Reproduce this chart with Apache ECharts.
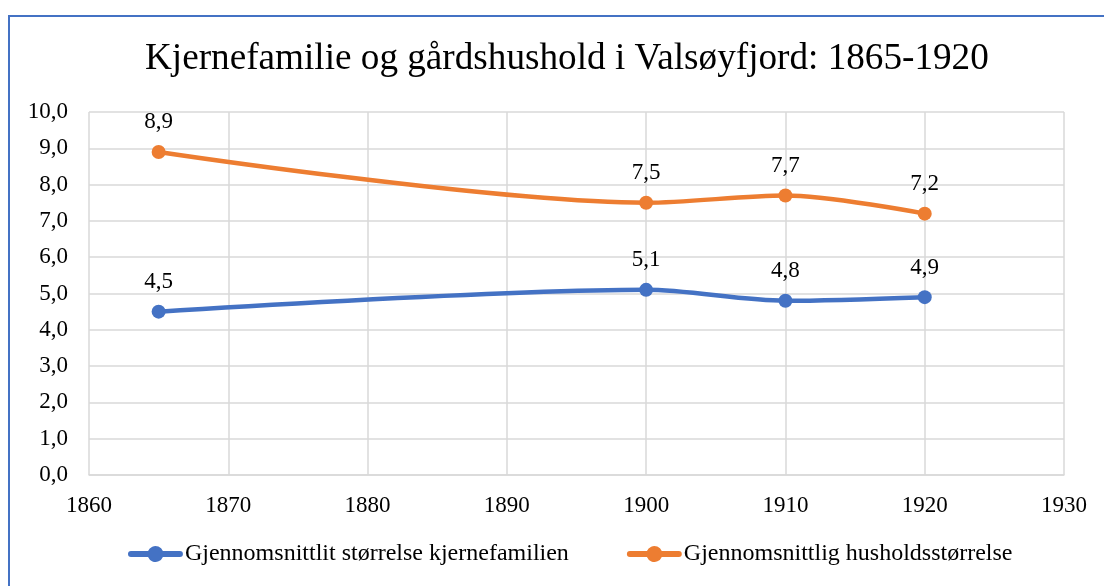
<!DOCTYPE html>
<html>
<head>
<meta charset="utf-8">
<script src="https://cdn.jsdelivr.net/npm/echarts@6/dist/echarts.min.js"></script>
<style>
  html, body { margin: 0; padding: 0; background: #fff; }
  #frame { position: absolute; left: 8px; top: 15px; width: 1100px; height: 580px;
           border-left: 2px solid #4472C4; border-top: 2px solid #4472C4; }
  #chart { position: absolute; left: 0; top: 0; width: 1104px; height: 586px; }
</style>
</head>
<body>
<div id="frame"></div>
<div id="chart"></div>
<script>
const years = [1865, 1900, 1910, 1920];
const kjernefamilie = [4.5, 5.1, 4.8, 4.9];
const hushold = [8.9, 7.5, 7.7, 7.2];
const seriesNames = ["Gjennomsnittlit størrelse kjernefamilien", "Gjennomsnittlig husholdsstørrelse"];

const font = "'Liberation Serif', 'Times New Roman', serif";
const comma = v => v.toFixed(1).replace(".", ",");
const pairs = vals => years.map((y, i) => [y, vals[i]]);

// thick line with a dot in the middle, like the Excel legend key (55 x 16 box)
const legendIcon = "path://M3,5 L20.08,5 A8,8 0 0 1 34.92,5 L52,5 A3,3 0 0 1 52,11 " +
  "L34.92,11 A8,8 0 0 1 20.08,11 L3,11 A3,3 0 0 1 3,5 Z";

const chart = echarts.init(document.getElementById("chart"));

const option = {
  animation: false,
  color: ["#4472C4", "#ED7D31"],
  title: {
    text: "Kjernefamilie og gårdshushold i Valsøyfjord: 1865-1920",
    left: 140,
    top: 36,
    textStyle: { fontFamily: font, fontSize: 37.2, fontWeight: "normal", color: "#000" },
  },
  legend: {
    left: 123,
    bottom: 15,
    itemWidth: 55,
    itemHeight: 16,
    itemGap: 58,
    icon: legendIcon,
    textStyle: { fontFamily: font, fontSize: 24, color: "#000", padding: [0, 0, 0, -3] },
    data: seriesNames,
  },
  grid: { left: 89, right: 40, top: 112, bottom: 111 },
  xAxis: {
    type: "value",
    min: 1860,
    max: 1930,
    interval: 10,
    axisLine: { show: true, lineStyle: { color: "#d9d9d9", width: 1.5 } },
    axisTick: { show: false },
    splitLine: { show: true, lineStyle: { color: "#d9d9d9", width: 1.5 } },
    axisLabel: { fontFamily: font, fontSize: 23, color: "#000", margin: 19, formatter: v => String(v) },
  },
  yAxis: {
    type: "value",
    min: 0,
    max: 10,
    interval: 1,
    axisLine: { show: false },
    axisTick: { show: false },
    splitLine: { show: true, lineStyle: { color: "#d9d9d9", width: 1.5 } },
    axisLabel: { fontFamily: font, fontSize: 23, color: "#000", margin: 21, formatter: comma },
  },
  series: [
    { name: seriesNames[0], vals: kjernefamilie },
    { name: seriesNames[1], vals: hushold },
  ].map(s => ({
    name: s.name,
    type: "line",
    smooth: 0.3,
    symbol: "circle",
    symbolSize: 14,
    lineStyle: { width: 4.5 },
    data: pairs(s.vals),
    label: {
      show: true,
      position: "top",
      distance: 11,
      fontFamily: font,
      fontSize: 23,
      color: "#000",
      formatter: p => comma(p.value[1]),
    },
  })),
};

chart.setOption(option);
</script>
</body>
</html>
